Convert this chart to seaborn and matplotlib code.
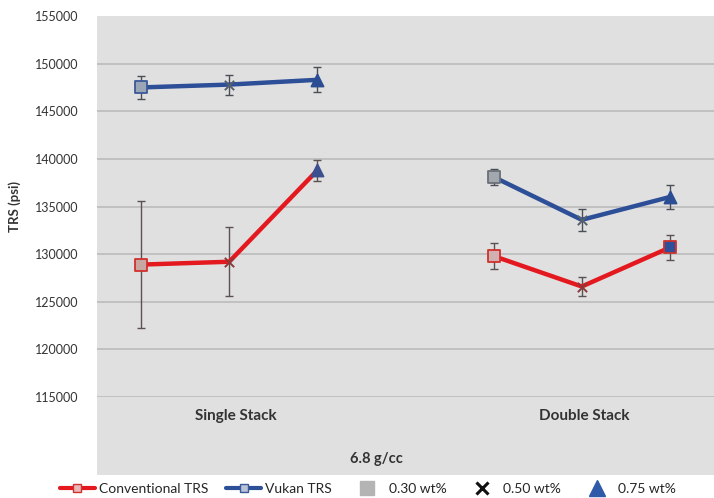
import numpy as np
import pandas as pd
import matplotlib
matplotlib.use("Agg")
import matplotlib.pyplot as plt
from matplotlib.lines import Line2D
import seaborn as sns

# ---- data -------------------------------------------------------------
stacks = ["Single Stack", "Double Stack"]
loadings = ["0.30 wt%", "0.50 wt%", "0.75 wt%"]
density_label = "6.8 g/cc"

conventional_single = [128900, 129200, 138800]
conventional_single_err = [6650, 3600, 1100]
conventional_double = [129800, 126600, 130700]
conventional_double_err = [1400, 1000, 1300]

vulkan_single = [147500, 147800, 148300]
vulkan_single_err = [1200, 1050, 1300]
vulkan_double = [138100, 133600, 136000]
vulkan_double_err = [800, 1150, 1300]

series_names = ["Conventional TRS", "Vukan TRS"]
y_ticks = [115000, 120000, 125000, 130000, 135000, 140000, 145000, 150000, 155000]

# ---- long table: 7 category slots, middle one left empty ----------------
rows = []
series_values = {
    "Conventional TRS": (conventional_single + conventional_double,
                         conventional_single_err + conventional_double_err),
    "Vukan TRS": (vulkan_single + vulkan_double,
                  vulkan_single_err + vulkan_double_err),
}
for name, (vals, errs) in series_values.items():
    for i, (v, e) in enumerate(zip(vals, errs)):
        stack = stacks[i // 3]
        pos = i if i < 3 else i + 1
        rows.append(dict(series=name, stack=stack, loading=loadings[i % 3],
                         pos=pos, trs=v, err=e))
df = pd.DataFrame(rows)

# ---- figure -----------------------------------------------------------
W, H = 714, 498
sns.set_theme(style="white")
plt.rcParams["font.family"] = ["Lato", "DejaVu Sans"]
fig = plt.figure(figsize=(W / 100, H / 100), dpi=100)

def fx(px):
    return px / W

def fy(py):
    return 1 - py / H

# grey panel behind the plot and the category labels
bg_ax = fig.add_axes([fx(97), fy(475), fx(714 - 97), (475 - 16) / H], zorder=0)
bg_ax.set_facecolor("#e0e0e0")
bg_ax.set_xticks([])
bg_ax.set_yticks([])
for s in bg_ax.spines.values():
    s.set_visible(False)

ax = fig.add_axes([fx(97), fy(397), fx(714 - 97), (397 - 16) / H], zorder=1)
ax.set_facecolor("none")
for s in ax.spines.values():
    s.set_visible(False)

for t in y_ticks[:-1]:
    ax.axhline(t, color="#b8b8b8", lw=1.1, zorder=1)

palette = {"Conventional TRS": "#e3191f", "Vukan TRS": "#2d4f98"}
err_color = {"Conventional TRS": "#5b5150", "Vukan TRS": "#4a4e55"}

# error bars first, lines above them
for name in series_names:
    d = df[df.series == name]
    ax.errorbar(d.pos, d.trs, yerr=d.err, fmt="none", ecolor=err_color[name],
                elinewidth=1.0, capsize=3, capthick=1.0, zorder=2)

sns.lineplot(data=df, x="pos", y="trs", hue="series", units="stack",
             estimator=None, palette=palette, linewidth=3.2, legend=False,
             ax=ax, zorder=3, sort=True)

# point markers
shape = {
    "Conventional TRS": ["s", "x", "^", "s", "x", "s"],
    "Vukan TRS": ["s", "x", "^", "s", "x", "^"],
}
face = {
    "Conventional TRS": ["#c8a7a3", "#8a3a3a", "#3c4f8e", "#d3b0b0", "#8a3a3a", "#2e4f9a"],
    "Vukan TRS": ["#9aa6b6", "#55606e", "#2b4d93", "#a3a7ae", "#55606e", "#2b4d93"],
}
edge = {
    "Conventional TRS": ["#d0312d", "#8a3a3a", "#3c4f8e", "#d0312d", "#8a3a3a", "#d0312d"],
    "Vukan TRS": ["#3b5998", "#55606e", "#2b4d93", "#6a6f78", "#55606e", "#2b4d93"],
}
for name in series_names:
    d = df[df.series == name].reset_index(drop=True)
    for i, r in d.iterrows():
        m = shape[name][i]
        if m == "x":
            ax.scatter(r.pos, r.trs, marker="x", s=45, color=face[name][i],
                       linewidths=1.4, zorder=4)
        else:
            ax.scatter(r.pos, r.trs, marker=m, s=75, facecolor=face[name][i],
                       edgecolor=edge[name][i], linewidths=1.3, zorder=4)

ax.set_xlim(-0.5, 6.5)
ax.set_ylim(115000, 155000)
ax.set_yticks(y_ticks)
ax.set_yticklabels([str(t) for t in y_ticks], fontsize=9, color="#333333")
ax.tick_params(axis="y", length=0, pad=13)
ax.set_xticks([])
ax.set_xlabel("")
ax.set_ylabel("TRS (psi)", fontsize=9.5, fontweight="bold", color="#333333",
              labelpad=10)

# category labels below the axis
fig.text(fx(236), fy(416), stacks[0], ha="center", va="center", fontsize=11,
         fontweight="bold", color="#333333")
fig.text(fx(584), fy(416), stacks[1], ha="center", va="center", fontsize=11,
         fontweight="bold", color="#333333")
fig.text(fx(376), fy(459), density_label, ha="center", va="center", fontsize=10.5,
         fontweight="bold", color="#333333")

handles = [
    Line2D([], [], color=palette["Conventional TRS"], lw=3, marker="s",
           markersize=6, markerfacecolor="#e8b8b8", markeredgecolor="#d0312d"),
    Line2D([], [], color=palette["Vukan TRS"], lw=3, marker="s",
           markersize=6, markerfacecolor="#b8c2d8", markeredgecolor="#3b5998"),
    Line2D([], [], color="none", marker="s", markersize=10,
           markerfacecolor="#b4b4b4", markeredgecolor="#b4b4b4"),
    Line2D([], [], color="none", marker="x", markersize=9,
           markeredgecolor="#111111", markeredgewidth=2.2),
    Line2D([], [], color="none", marker="^", markersize=11,
           markerfacecolor="#2e5aa8", markeredgecolor="#2e5aa8"),
]
labels = series_names + loadings
fig.legend(handles, labels, loc="center", bbox_to_anchor=(fx(368), fy(489)),
           ncol=5, frameon=False, fontsize=10, handlelength=2.5,
           handletextpad=0.3, columnspacing=1.3)

fig.savefig("out.png", dpi=100, facecolor="white")
